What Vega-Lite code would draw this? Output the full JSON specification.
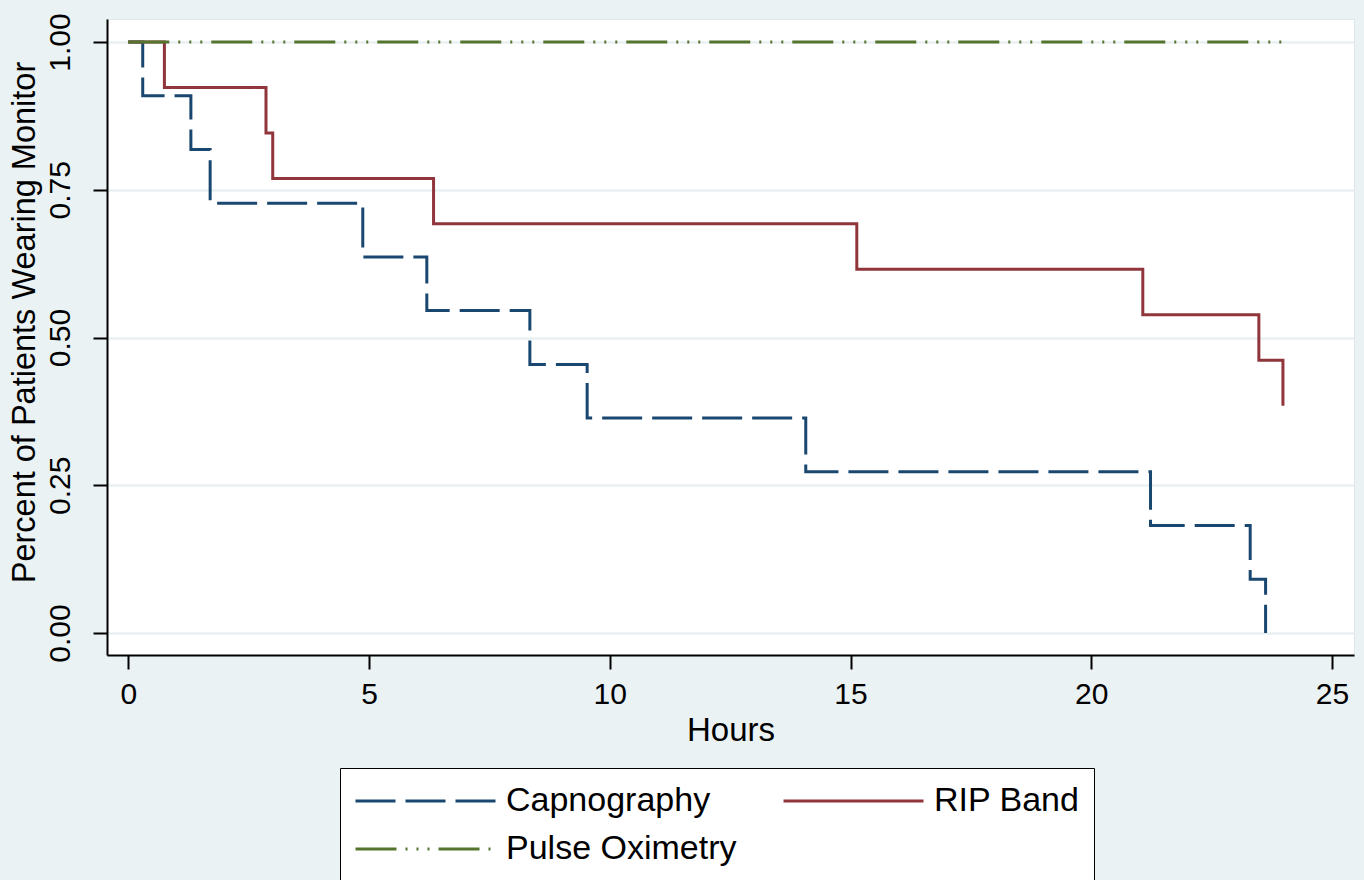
{
  "$schema": "https://vega.github.io/schema/vega-lite/v6.json",
  "width": 1247,
  "height": 636,
  "autosize": {"type": "none"},
  "padding": {"left": 107, "top": 19, "right": 10, "bottom": 225},
  "background": "#EAF2F3",
  "view": {"fill": "white", "stroke": "#DDE6E8", "strokeWidth": 1},
  "config": {
    "font": "Liberation Sans",
    "axis": {
      "domainColor": "black",
      "domainWidth": 2,
      "tickColor": "black",
      "tickWidth": 2,
      "tickSize": 14,
      "labelColor": "black",
      "labelFont": "Liberation Sans",
      "labelFontSize": 30,
      "titleFont": "Liberation Sans",
      "titleFontWeight": "normal",
      "titleColor": "black"
    },
    "legend": {
      "orient": "none",
      "legendX": 233,
      "legendY": 749,
      "columns": 2,
      "direction": "horizontal",
      "symbolType": "M-1,0H7",
      "symbolSize": 1225,
      "symbolStrokeWidth": 3,
      "labelFont": "Liberation Sans",
      "labelFontSize": 34,
      "labelColor": "black",
      "labelOffset": 114,
      "columnPadding": 40,
      "rowPadding": 12,
      "padding": 14,
      "strokeColor": "black",
      "fillColor": "white",
      "labelLimit": 400
    }
  },
  "data": {
    "values": [
      {"series": "Capnography", "hours": 0, "surv": 1},
      {"series": "Capnography", "hours": 0.30, "surv": 0.9091},
      {"series": "Capnography", "hours": 1.30, "surv": 0.8182},
      {"series": "Capnography", "hours": 1.70, "surv": 0.7273},
      {"series": "Capnography", "hours": 4.87, "surv": 0.6364},
      {"series": "Capnography", "hours": 6.20, "surv": 0.5455},
      {"series": "Capnography", "hours": 8.34, "surv": 0.4545},
      {"series": "Capnography", "hours": 9.53, "surv": 0.3636},
      {"series": "Capnography", "hours": 14.07, "surv": 0.2727},
      {"series": "Capnography", "hours": 21.23, "surv": 0.1818},
      {"series": "Capnography", "hours": 23.30, "surv": 0.0909},
      {"series": "Capnography", "hours": 23.62, "surv": 0},
      {"series": "RIP Band", "hours": 0, "surv": 1},
      {"series": "RIP Band", "hours": 0.75, "surv": 0.9231},
      {"series": "RIP Band", "hours": 2.86, "surv": 0.8462},
      {"series": "RIP Band", "hours": 3.00, "surv": 0.7692},
      {"series": "RIP Band", "hours": 6.34, "surv": 0.6923},
      {"series": "RIP Band", "hours": 15.13, "surv": 0.6154},
      {"series": "RIP Band", "hours": 21.07, "surv": 0.5385},
      {"series": "RIP Band", "hours": 23.48, "surv": 0.4615},
      {"series": "RIP Band", "hours": 23.98, "surv": 0.3846},
      {"series": "Pulse Oximetry", "hours": 0, "surv": 1},
      {"series": "Pulse Oximetry", "hours": 23.95, "surv": 1}
    ]
  },
  "mark": {"type": "line", "interpolate": "step-after", "strokeWidth": 3, "strokeCap": "butt", "clip": true},
  "encoding": {
    "x": {
      "field": "hours",
      "type": "quantitative",
      "scale": {"domain": [-0.442, 25.456], "nice": false, "zero": false},
      "axis": {"values": [0, 5, 10, 15, 20, 25], "format": "d", "title": "Hours", "titleFontSize": 33, "grid": false, "labelPadding": 10, "titlePadding": 5}
    },
    "y": {
      "field": "surv",
      "type": "quantitative",
      "scale": {"domain": [-0.0372, 1.0389], "nice": false, "zero": false},
      "axis": {"values": [0, 0.25, 0.5, 0.75, 1], "format": ".2f", "labelAngle": -90, "labelAlign": "center", "labelBaseline": "bottom", "labelPadding": 18, "title": "Percent of Patients Wearing Monitor", "titleFontSize": 32.5, "titlePadding": 4, "titleY": 303, "grid": true, "gridColor": "#E4EDEF", "gridWidth": 2}
    },
    "color": {
      "field": "series",
      "type": "nominal",
      "scale": {"domain": ["Capnography", "RIP Band", "Pulse Oximetry"], "range": ["#1a476f", "#90353b", "#55752f"]},
      "legend": {"title": null}
    },
    "strokeDash": {
      "field": "series",
      "type": "nominal",
      "scale": {"domain": ["Capnography", "RIP Band", "Pulse Oximetry"], "range": [[40, 10], [1, 0], [41, 9, 2, 9, 2, 9, 2, 9]]},
      "legend": {"title": null}
    }
  }
}
